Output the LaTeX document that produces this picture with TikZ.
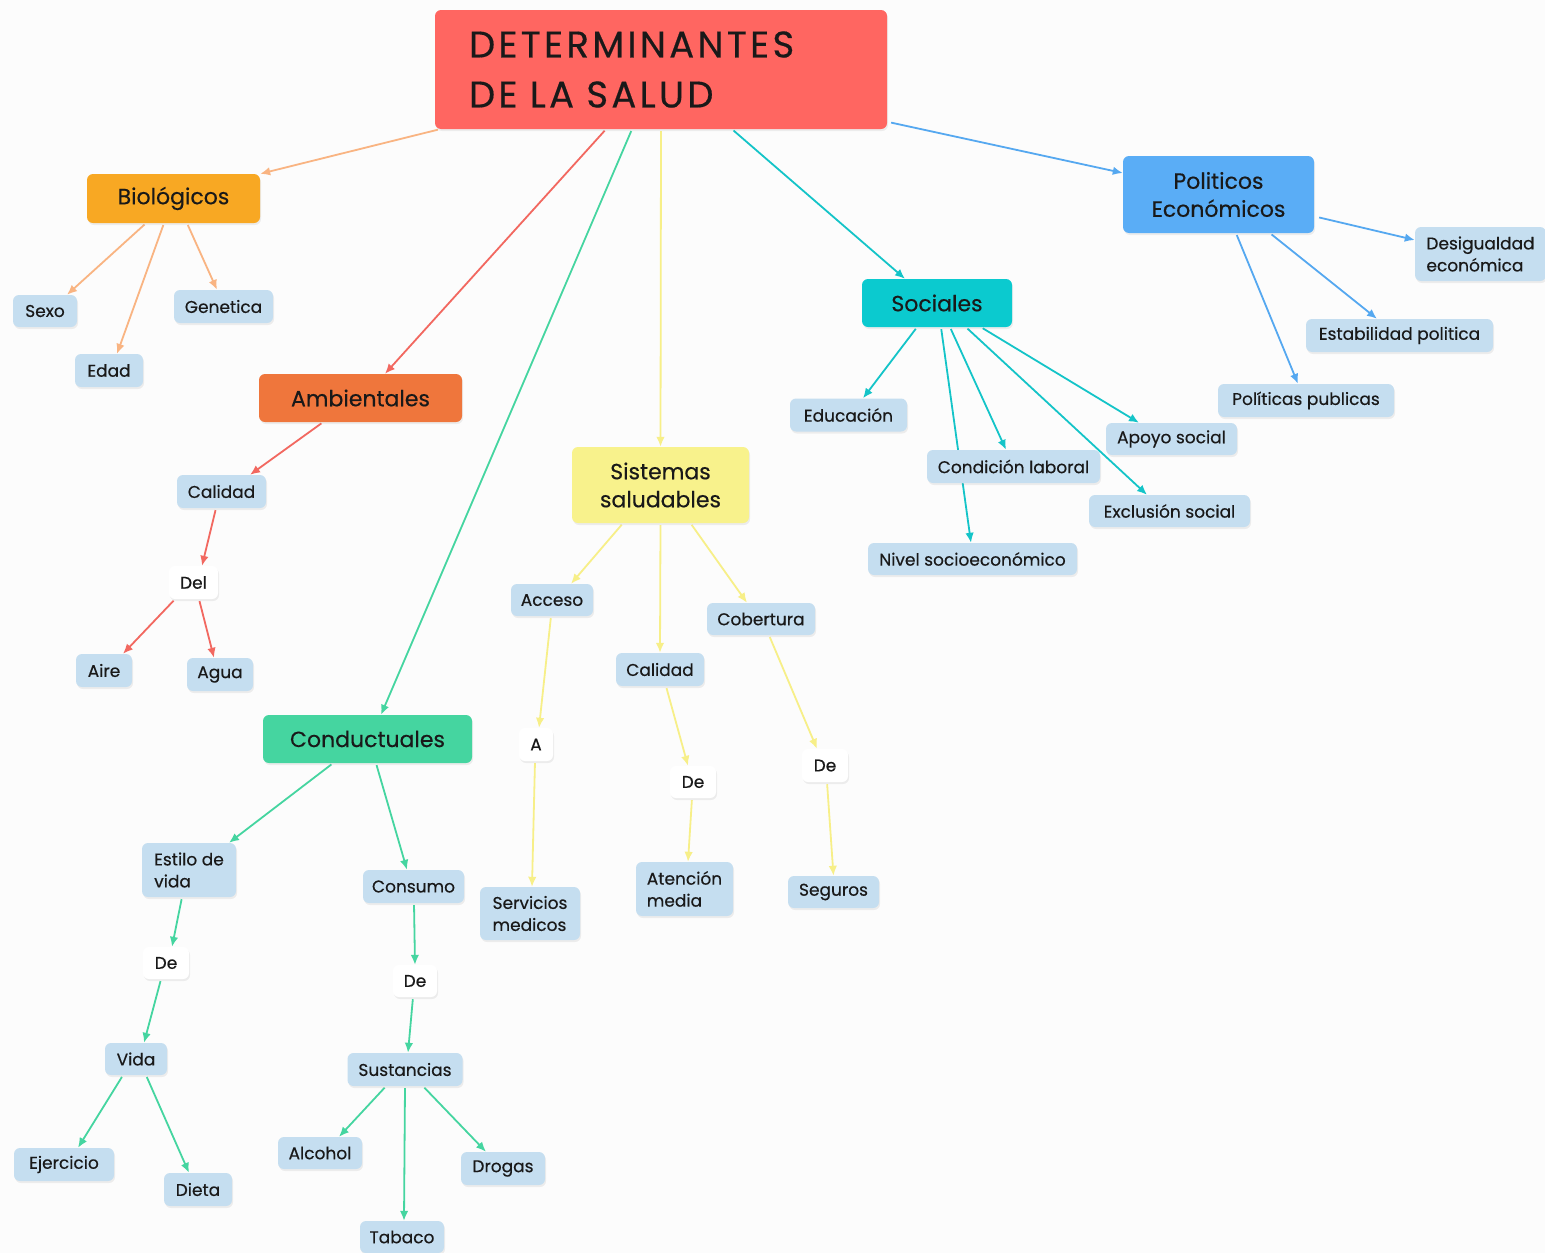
\documentclass[tikz,border=0pt]{standalone}
\usepackage{fontspec}
\setmainfont{Poppins}[UprightFeatures={FakeBold=0.4}]
\usepackage{tikz}
\usetikzlibrary{arrows.meta}
\usetikzlibrary{shadows}
\usetikzlibrary{backgrounds}
\definecolor{paper}{RGB}{252,252,252}
\definecolor{rootred}{RGB}{255,102,97}
\definecolor{biofill}{RGB}{248,168,35}
\definecolor{ambfill}{RGB}{239,118,60}
\definecolor{condfill}{RGB}{69,213,160}
\definecolor{sistfill}{RGB}{248,242,140}
\definecolor{socfill}{RGB}{11,202,207}
\definecolor{polfill}{RGB}{90,173,246}
\definecolor{leafblue}{RGB}{197,222,240}
\definecolor{bioline}{RGB}{249,180,130}
\definecolor{ambline}{RGB}{242,104,96}
\definecolor{condline}{RGB}{69,213,160}
\definecolor{sistline}{RGB}{247,239,136}
\definecolor{socline}{RGB}{20,196,200}
\definecolor{polline}{RGB}{85,168,240}
\tikzset{>=latex}
\tikzstyle{box} = [rectangle, rounded corners=6pt, inner sep=4pt, text=black!90,
  drop shadow={opacity=0.12, shadow xshift=1pt, shadow yshift=-2pt}]
\tikzstyle{leaf} = [box, fill=leafblue, font=\fontsize{17}{22}\selectfont]
\tikzstyle{link} = [box, fill=white, font=\fontsize{17}{22}\selectfont]
\tikzstyle{branch} = [box, font=\fontsize{22}{28}\selectfont]
\tikzstyle{edge} = [-{Latex[length=10pt,width=8.5pt]}, line width=1.8pt, shorten <=2pt]

\begin{document}
\begin{tikzpicture}[x=1pt, y=-1pt]
\useasboundingbox (0, 0) rectangle (1545, 1253);
% main title
\node [box, fill=rootred, minimum height=119pt, text width=384pt, inner xsep=34pt,
  align=left, font=\fontsize{37}{50}\selectfont\addfontfeature{LetterSpace=9}] (root) at (661, 69.5)
  {DETERMINANTES\\DE LA SALUD};

% biologicos
\node [branch, fill=biofill, minimum width=173pt, minimum height=49pt] (bio) at (173.5, 198.5) {Biológicos};
\node [leaf, minimum width=64pt, minimum height=32pt] (sexo) at (45, 311) {Sexo};
\node [leaf, minimum width=99pt, minimum height=33pt] (gen) at (223.5, 306.5) {Genetica};
\node [leaf, minimum width=68pt, minimum height=33pt] (edad) at (109, 370.5) {Edad};

% ambientales
\node [branch, fill=ambfill, minimum width=203pt, minimum height=48pt] (amb) at (360.5, 398) {Ambientales};
\node [leaf, minimum width=89pt, minimum height=33pt] (calA) at (221.5, 491.5) {Calidad};
\node [link, minimum width=49pt, minimum height=33pt] (del) at (193.5, 582.5) {Del};
\node [leaf, minimum width=56pt, minimum height=33pt] (aire) at (104, 670.5) {Aire};
\node [leaf, minimum width=66pt, minimum height=33pt] (agua) at (220, 674.5) {Agua};

% conductuales
\node [branch, fill=condfill, minimum width=209pt, minimum height=48pt] (cond) at (367.5, 739) {Conductuales};
\node [leaf, minimum width=94pt, minimum height=54pt, align=left] (estilo) at (189, 870) {Estilo de\\vida};
\node [link, minimum width=46pt, minimum height=32pt] (deE) at (166, 963) {De};
\node [leaf, minimum width=62pt, minimum height=32pt] (vida) at (136, 1059) {Vida};
\node [leaf, minimum width=100pt, minimum height=33pt] (ejer) at (64, 1164.5) {Ejercicio};
\node [leaf, minimum width=68pt, minimum height=33pt] (dieta) at (198, 1189.5) {Dieta};
\node [leaf, minimum width=101pt, minimum height=33pt] (consumo) at (413.5, 886.5) {Consumo};
\node [link, minimum width=44pt, minimum height=32pt] (deC) at (415, 981) {De};
\node [leaf, minimum width=115pt, minimum height=33pt] (sust) at (405, 1069.5) {Sustancias};
\node [leaf, minimum width=84pt, minimum height=32pt] (alcohol) at (320, 1153) {Alcohol};
\node [leaf, minimum width=84pt, minimum height=33pt] (drogas) at (503, 1168.5) {Drogas};
\node [leaf, minimum width=84pt, minimum height=32pt] (tabaco) at (402, 1237) {Tabaco};

% sistemas saludables
\node [branch, fill=sistfill, minimum width=177pt, minimum height=76pt, align=center] (sist) at (660.5, 485) {Sistemas\\saludables};
\node [leaf, minimum width=82pt, minimum height=32pt] (acceso) at (552, 600) {Acceso};
\node [leaf, minimum width=88pt, minimum height=33pt] (calS) at (660, 669.5) {Calidad};
\node [leaf, minimum width=108pt, minimum height=32pt] (cob) at (761, 619) {Cobertura};
\node [link, minimum width=34pt, minimum height=33pt] (A) at (536, 744.5) {A};
\node [link, minimum width=46pt, minimum height=32pt] (deS1) at (693, 782) {De};
\node [link, minimum width=46pt, minimum height=33pt] (deS2) at (825, 765.5) {De};
\node [leaf, minimum width=100pt, minimum height=53pt, align=left] (serv) at (530, 913.5) {Servicios\\medicos};
\node [leaf, minimum width=97pt, minimum height=54pt, align=left] (aten) at (684.5, 889) {Atención\\media};
\node [leaf, minimum width=91pt, minimum height=32pt] (seg) at (833.5, 892) {Seguros};

% sociales
\node [branch, fill=socfill, minimum width=150pt, minimum height=48pt] (soc) at (937, 303) {Sociales};
\node [leaf, minimum width=117pt, minimum height=33pt] (edu) at (848.5, 415) {Educación};
\node [leaf, minimum width=173pt, minimum height=33pt] (condL) at (1013.5, 466.5) {Condición laboral};
\node [leaf, minimum width=209pt, minimum height=32pt] (nivel) at (972.5, 559) {Nivel socioeconómico};
\node [leaf, minimum width=131pt, minimum height=32pt] (apoyo) at (1171.5, 439) {Apoyo social};
\node [leaf, minimum width=161pt, minimum height=32pt] (excl) at (1169.5, 511) {Exclusión social};

% politicos economicos
\node [branch, fill=polfill, minimum width=191pt, minimum height=77pt, align=center] (pol) at (1218.5, 194.5) {Politicos\\Económicos};
\node [leaf, minimum width=131pt, minimum height=54pt, align=left] (desig) at (1480.5, 254) {Desigualdad\\económica};
\node [leaf, minimum width=187pt, minimum height=33pt] (estab) at (1399.5, 335.5) {Estabilidad politica};
\node [leaf, minimum width=176pt, minimum height=33pt] (polpub) at (1306, 400.5) {Políticas publicas};

\begin{scope}[on background layer]
\fill [paper] (0, 0) rectangle (1545, 1253);
% from the title
\draw [edge, bioline] ([xshift=5pt]root.south west) to (bio.north east);
\draw [edge, ambline] ([xshift=-55pt]root.south) to ([xshift=24.5pt]amb.north);
\draw [edge, condline] ([xshift=-29pt]root.south) to ([xshift=13.5pt]cond.north);
\draw [edge, sistline] (root.south) to (sist.north);
\draw [edge, socline] ([xshift=71pt]root.south) to ([xshift=-32pt]soc.north);
\draw [edge, polline] ([xshift=2pt, yshift=7pt]root.south east) to ([yshift=21.5pt]pol.west);
% biologicos
\draw [edge, bioline] ([xshift=-27.5pt]bio.south) to ([xshift=22pt]sexo.north);
\draw [edge, bioline] ([xshift=-9.5pt]bio.south) to ([xshift=8pt]edad.north);
\draw [edge, bioline] ([xshift=13.5pt]bio.south) to ([xshift=-6.5pt]gen.north);
% ambientales
\draw [edge, ambline] ([xshift=-37.5pt]amb.south) to ([xshift=28.5pt]calA.north);
\draw [edge, ambline] ([xshift=-5.5pt]calA.south) to ([xshift=8.5pt]del.north);
\draw [edge, ambline] ([xshift=-18.5pt]del.south) to ([xshift=19pt]aire.north);
\draw [edge, ambline] ([xshift=5.5pt]del.south) to ([xshift=-6pt]agua.north);
% conductuales
\draw [edge, condline] ([xshift=-34.5pt]cond.south) to ([xshift=40pt]estilo.north);
\draw [edge, condline] ([xshift=8.5pt]cond.south) to ([xshift=-6.5pt]consumo.north);
\draw [edge, condline] ([xshift=-7pt]estilo.south) to ([xshift=6pt]deE.north);
\draw [edge, condline] ([xshift=-5pt]deE.south) to ([xshift=8pt]vida.north);
\draw [edge, condline] ([xshift=-13pt]vida.south) to ([xshift=14pt]ejer.north);
\draw [edge, condline] ([xshift=10pt]vida.south) to ([xshift=-9pt]dieta.north);
\draw [edge, condline] ([xshift=0.5pt]consumo.south) to (deC.north);
\draw [edge, condline] ([xshift=-2pt]deC.south) to ([xshift=3pt]sust.north);
\draw [edge, condline] ([xshift=-19pt]sust.south) to ([xshift=19pt]alcohol.north);
\draw [edge, condline] (sust.south) to ([xshift=2pt]tabaco.north);
\draw [edge, condline] ([xshift=18pt]sust.south) to ([xshift=-17pt]drogas.north);
% sistemas saludables
\draw [edge, sistline] ([xshift=-37.5pt]sist.south) to ([xshift=19pt]acceso.north);
\draw [edge, sistline] (sist.south) to (calS.north);
\draw [edge, sistline] ([xshift=30pt]sist.south) to ([xshift=-14pt]cob.north);
\draw [edge, sistline] ([xshift=-1pt]acceso.south) to ([xshift=3pt]A.north);
\draw [edge, sistline] ([xshift=-1pt]A.south) to ([xshift=2pt]serv.north);
\draw [edge, sistline] ([xshift=6pt]calS.south) to ([xshift=-5pt]deS1.north);
\draw [edge, sistline] ([xshift=-1pt]deS1.south) to ([xshift=3.5pt]aten.north);
\draw [edge, sistline] ([xshift=8pt]cob.south) to ([xshift=-8pt]deS2.north);
\draw [edge, sistline] ([xshift=2pt]deS2.south) to (seg.north);
% sociales
\draw [edge, socline] ([xshift=-20pt]soc.south) to ([xshift=14.5pt]edu.north);
\draw [edge, socline] ([xshift=4pt]soc.south) to ([xshift=-1.5pt]nivel.north);
\draw [edge, socline] ([xshift=13pt]soc.south) to ([xshift=-7.5pt]condL.north);
\draw [edge, socline] ([xshift=29pt]soc.south) to ([xshift=-22.5pt]excl.north);
\draw [edge, socline] ([xshift=44pt]soc.south) to ([xshift=-32.5pt]apoyo.north);
% politicos economicos
\draw [edge, polline] ([xshift=3pt, yshift=-22.5pt]pol.east) to ([yshift=14pt]desig.west);
\draw [edge, polline] ([xshift=51.5pt]pol.south) to ([xshift=-22.5pt]estab.north);
\draw [edge, polline] ([xshift=17.5pt]pol.south) to ([xshift=-8pt]polpub.north);
\end{scope}
\end{tikzpicture}
\end{document}
